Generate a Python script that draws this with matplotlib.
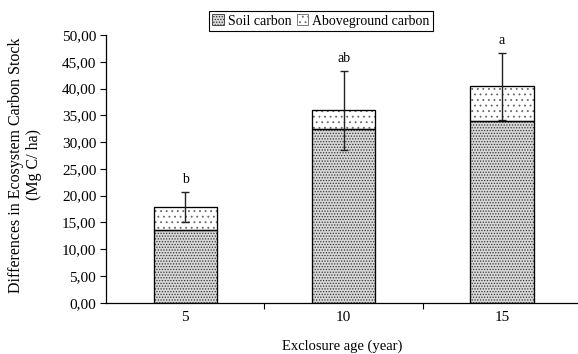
import matplotlib
matplotlib.use("Agg")
import matplotlib.pyplot as plt
from matplotlib.patches import Patch
from matplotlib.ticker import FuncFormatter, FixedLocator
import numpy as np

# Data
ages = ["5", "10", "15"]
soil_carbon = [13.5, 32.4, 34.0]
aboveground_carbon = [4.4, 3.5, 6.4]
total_error = [2.8, 7.4, 6.2]
group_letters = ["b", "ab", "a"]

plt.rcParams["font.family"] = ["Liberation Serif", "DejaVu Serif"]
plt.rcParams["hatch.linewidth"] = 0.6

fig = plt.figure(figsize=(5.78, 3.54), dpi=100)
ax = fig.add_axes([106 / 578, 1 - 302.7 / 354, (578 - 106) / 578, (302.7 - 35) / 354])

x = np.arange(len(ages))
width = 0.40
totals = np.array(soil_carbon) + np.array(aboveground_carbon)

soil_style = dict(facecolor="#d8d8d8", edgecolor="#333333", hatch="......")
above_style = dict(facecolor="white", edgecolor="#666666", hatch="...")

ax.bar(x, soil_carbon, width, linewidth=0.8, label="Soil carbon", zorder=2, **soil_style)
ax.bar(x, aboveground_carbon, width, bottom=soil_carbon, linewidth=0.8,
       label="Aboveground carbon", zorder=2, **above_style)
# black outlines on top of the hatched fills
ax.bar(x, soil_carbon, width, fill=False, edgecolor="black", linewidth=0.9, zorder=2.5)
ax.bar(x, aboveground_carbon, width, bottom=soil_carbon, fill=False, edgecolor="black",
       linewidth=0.9, zorder=2.5)
ax.errorbar(x, totals, yerr=total_error, fmt="none", ecolor="#222222", elinewidth=1.0,
            capsize=3, capthick=1.0, zorder=3)

for xi, top, err, letter in zip(x, totals, total_error, group_letters):
    ax.annotate(letter, (xi, top + err), xytext=(0, 9), textcoords="offset points",
                ha="center", va="center", fontsize=10)

ax.set_ylim(0, 50)
ax.set_xlim(-0.5, 2.48)
ax.set_yticks(np.arange(0, 50.1, 5))
ax.yaxis.set_major_formatter(FuncFormatter(lambda v, p: f"{v:.2f}".replace(".", ",")))
ax.xaxis.set_major_locator(FixedLocator([0.5, 1.5]))
ax.xaxis.set_major_formatter(FuncFormatter(lambda v, p: ""))
ax.set_xticks(x, minor=True)
ax.set_xticklabels(ages, minor=True)
ax.tick_params(axis="x", which="minor", length=0, labelsize=11, pad=6)
ax.tick_params(axis="x", which="major", length=4, direction="out", width=0.8)
ax.tick_params(axis="y", length=4, direction="out", width=0.8, labelsize=11, pad=3)

for side in ["top", "right"]:
    ax.spines[side].set_visible(False)
for side in ["left", "bottom"]:
    ax.spines[side].set_linewidth(0.9)

ax.set_xlabel("Exclosure age (year)", fontsize=10.5, labelpad=11)
ax.set_ylabel("Differences in Ecosystem Carbon Stock\n(Mg C/ ha)", fontsize=11.5,
              linespacing=1.2)
ax.yaxis.set_label_coords(-0.135, 0.515)

handles = [
    Patch(linewidth=0.6, label="Soil carbon", **soil_style),
    Patch(linewidth=0.6, label="Aboveground carbon", **above_style),
]
leg = fig.legend(handles=handles, loc="center", bbox_to_anchor=(321 / 578, 1 - 21 / 354),
                 ncol=2, fontsize=10, frameon=True, fancybox=False, framealpha=1,
                 edgecolor="black", handlelength=0.8, handleheight=0.8, handletextpad=0.3,
                 columnspacing=0.4, borderpad=0.25)
leg.get_frame().set_linewidth(0.8)

fig.savefig("out.png", dpi=100)
